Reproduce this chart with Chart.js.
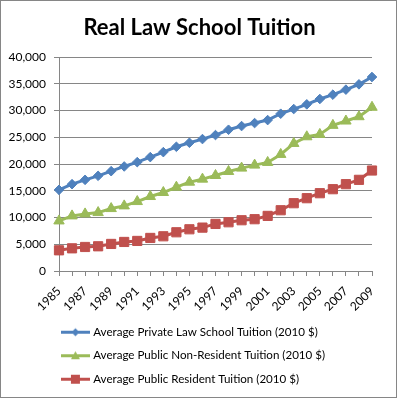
<!DOCTYPE html>
<html>
<head>
<meta charset="utf-8">
<script src="https://cdn.jsdelivr.net/npm/chart.js@4.4.0/dist/chart.umd.min.js"></script>
<style>
  body { margin: 0; background: #fff; }
  canvas { display: block; }
</style>
</head>
<body>
<canvas id="tuitionChart" width="399" height="400"></canvas>
<script>
const years = ['1985', '1986', '1987', '1988', '1989', '1990', '1991', '1992', '1993', '1994', '1995', '1996',
  '1997', '1998', '1999', '2000', '2001', '2002', '2003', '2004', '2005', '2006', '2007', '2008', '2009'];

const privateTuition = [15170, 16230, 17040, 17790, 18660, 19540, 20350, 21290, 22220, 23220, 23970, 24660,
  25410, 26400, 27090, 27650, 28210, 29400, 30270, 31150, 32150, 32960, 33900, 34890, 36260];
const nonResidentTuition = [9360, 10300, 10670, 10920, 11670, 12170, 12980, 13920, 14670, 15670, 16600, 17170,
  17850, 18600, 19230, 19790, 20290, 21790, 23840, 25090, 25530, 27220, 28030, 28840, 30600];
const residentTuition = [3870, 4240, 4490, 4620, 5060, 5430, 5620, 6180, 6490, 7240, 7800, 8110,
  8800, 9110, 9490, 9680, 10300, 11360, 12670, 13610, 14540, 15290, 16230, 17040, 18780];

const seriesNames = [
  'Average Private Law School Tuition (2010 $)',
  'Average Public Non-Resident Tuition (2010 $)',
  'Average Public Resident Tuition (2010 $)'
];
const seriesColors = ['#4F81BD', '#9BBB59', '#C0504D'];
const seriesMarkers = ['rectRot', 'triangle', 'rect'];

const FONT = 'Lato, "Noto Sans", sans-serif';

// little line+marker picture for each legend entry, like Excel does
function legendSample(color, marker) {
  const c = document.createElement('canvas');
  c.width = 29;
  c.height = 13;
  const g = c.getContext('2d');
  g.strokeStyle = color;
  g.fillStyle = color;
  g.lineWidth = 3;
  g.beginPath();
  g.moveTo(0, 6.5);
  g.lineTo(29, 6.5);
  g.stroke();
  g.beginPath();
  if (marker === 'rectRot') {
    g.moveTo(14.5, 2.5); g.lineTo(18.5, 6.5); g.lineTo(14.5, 10.5); g.lineTo(10.5, 6.5);
  } else if (marker === 'triangle') {
    g.moveTo(14.5, 2); g.lineTo(19, 10); g.lineTo(10, 10);
  } else {
    g.rect(10, 2, 9, 9);
  }
  g.closePath();
  g.fill();
  return c;
}
const legendImages = seriesColors.map((c, i) => legendSample(c, seriesMarkers[i]));

const frame = {
  id: 'frame',
  beforeDraw(chart) {
    const ctx = chart.ctx;
    ctx.save();
    ctx.fillStyle = '#fff';
    ctx.fillRect(0, 0, chart.width, chart.height);
    ctx.strokeStyle = '#868686';
    ctx.lineWidth = 1;
    ctx.strokeRect(0.5, 0.5, 396, 397);
    ctx.restore();
  },
  afterLayout(chart) {
    // centre the title on the whole picture and pull the legend to the left
    chart.titleBlock.left = 0;
    chart.titleBlock.right = 399;
    chart.legend.left = 51.5;
    chart.legend.top -= 5;
    chart.legend.bottom -= 5;
  }
};

function makeDataset(i, values) {
  const radius = { rectRot: 4.8, triangle: 6, rect: 6.5 };
  return {
    label: seriesNames[i],
    data: values,
    borderColor: seriesColors[i],
    backgroundColor: seriesColors[i],
    borderWidth: 3,
    pointStyle: seriesMarkers[i],
    pointRadius: radius[seriesMarkers[i]],
    pointBorderWidth: 1,
    pointBackgroundColor: seriesColors[i],
    pointBorderColor: seriesColors[i],
    tension: 0
  };
}

new Chart(document.getElementById('tuitionChart'), {
  type: 'line',
  data: {
    labels: years,
    datasets: [
      makeDataset(0, privateTuition),
      makeDataset(1, nonResidentTuition),
      makeDataset(2, residentTuition)
    ]
  },
  plugins: [frame],
  options: {
    responsive: false,
    animation: false,
    layout: { padding: { left: 0, right: 27, top: 0, bottom: 0 } },
    plugins: {
      title: {
        display: true,
        text: 'Real Law School Tuition',
        color: '#000',
        font: { family: FONT, size: 22, weight: 'bold' },
        padding: { top: 15, bottom: 15.6 }
      },
      legend: {
        position: 'bottom',
        align: 'start',
        labels: {
          usePointStyle: true,
          pointStyleWidth: 24,
          padding: 11.9,
          color: '#000',
          font: { family: FONT, size: 11.6 },
          generateLabels(chart) {
            const items = Chart.defaults.plugins.legend.labels.generateLabels(chart);
            items.forEach((it, i) => { it.pointStyle = legendImages[i]; });
            return items;
          }
        }
      },
      tooltip: { enabled: false }
    },
    scales: {
      x: {
        afterFit(s) { s.height = 48.5; },
        grid: { display: true, drawOnChartArea: false, drawTicks: true, tickLength: 5, color: '#868686' },
        border: { color: '#868686' },
        ticks: {
          autoSkip: false,
          minRotation: 45,
          maxRotation: 45,
          padding: 8,
          color: '#000',
          font: { family: FONT, size: 12 },
          callback(value, index) { return index % 2 === 0 ? years[index] : ''; }
        }
      },
      y: {
        min: 0,
        max: 40000,
        afterFit(s) { s.width = 59; },
        grid: { color: '#868686', tickLength: 5 },
        border: { color: '#868686' },
        ticks: {
          stepSize: 5000,
          padding: 8,
          color: '#000',
          font: { family: FONT, size: 12 }
        }
      }
    }
  }
});
</script>
</body>
</html>
